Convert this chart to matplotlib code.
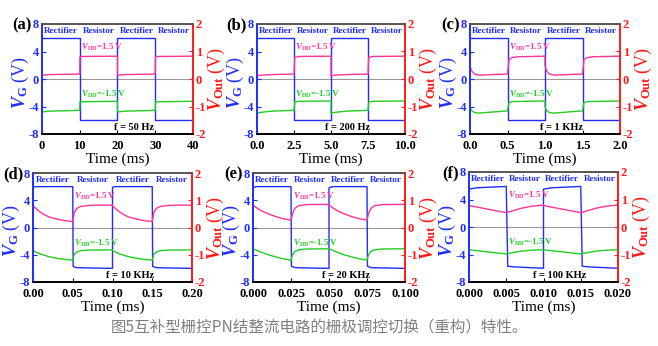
import numpy as np
import matplotlib.pyplot as plt

plt.rcParams['font.family'] = 'Liberation Serif'
plt.rcParams['font.weight'] = 'bold'
plt.rcParams['mathtext.fontset'] = 'custom'
plt.rcParams['mathtext.rm'] = 'Liberation Serif:bold'
plt.rcParams['mathtext.it'] = 'Liberation Serif:italic:bold'
plt.rcParams['mathtext.bf'] = 'Liberation Serif:bold'

BLUE = '#1f2dff'
RED = '#ff1a1a'
PINK = '#ff3399'
GREEN = '#22cc22'

panel_ids = ['(a)', '(b)', '(c)', '(d)', '(e)', '(f)']
freq_labels = ['f = 50 Hz', 'f = 200 Hz', 'f = 1 KHz', 'f = 10 KHz', 'f = 20 KHz', 'f = 100 KHz']
periods = [20, 5, 1, 0.1, 0.05, 0.01]
x_ticks = [
    [0, 10, 20, 30, 40],
    [0.0, 2.5, 5.0, 7.5, 10.0],
    [0.0, 0.5, 1.0, 1.5, 2.0],
    [0.00, 0.05, 0.10, 0.15, 0.20],
    [0.000, 0.025, 0.050, 0.075, 0.100],
    [0.000, 0.005, 0.010, 0.015, 0.020],
]
x_fmt = ['{:.0f}', '{:.1f}', '{:.1f}', '{:.2f}', '{:.3f}', '{:.3f}']

# one period of each trace: (time in ms, value); V_G in V on the left axis,
# V_Out in V on the right axis
vg_pts = [
    [(0, 6), (10, 6), (10, -6), (20, -6)],
    [(0, 6), (2.5, 6), (2.5, -6), (5, -6)],
    [(0, 6), (0.5, 6), (0.5, -6), (1, -6)],
    [(0, 5.9), (0.003, 6), (0.05, 6), (0.0505, -5.7), (0.055, -5.9), (0.1, -6)],
    [(0, 5.8), (0.002, 6), (0.025, 6), (0.0253, -5.7), (0.028, -5.9), (0.05, -6)],
    [(0, 5.5), (0.001, 5.7), (0.005, 5.9), (0.0052, -5.7), (0.006, -5.8), (0.01, -6)],
]
vdd_pos = [
    [(0, 0.15), (0.3, 0.14), (2, 0.16), (10, 0.18), (10.05, 0.8), (10.5, 0.82), (20, 0.83)],
    [(0, 0.12), (0.3, 0.14), (1, 0.16), (2.5, 0.18), (2.55, 0.78), (2.8, 0.82), (5, 0.83)],
    [(0, 0.48), (0.02, 0.3), (0.06, 0.18), (0.12, 0.14), (0.3, 0.16), (0.5, 0.18),
     (0.52, 0.7), (0.56, 0.78), (0.65, 0.81), (1.0, 0.83)],
    [(0, 0.8), (0.005, 0.66), (0.01, 0.55), (0.015, 0.46), (0.02, 0.39), (0.03, 0.31),
     (0.04, 0.25), (0.05, 0.22), (0.052, 0.55), (0.055, 0.7), (0.06, 0.77), (0.07, 0.81),
     (0.08, 0.82), (0.1, 0.82)],
    [(0, 0.82), (0.0025, 0.72), (0.005, 0.63), (0.01, 0.5), (0.015, 0.4), (0.02, 0.32),
     (0.025, 0.27), (0.026, 0.5), (0.0275, 0.7), (0.03, 0.8), (0.035, 0.84), (0.05, 0.85)],
    [(0, 0.78), (0.005, 0.52), (0.0055, 0.56), (0.007, 0.68), (0.0085, 0.76), (0.01, 0.8)],
]
vdd_neg = [
    [(0, -1.2), (0.5, -1.19), (2, -1.17), (10, -1.14), (10.05, -0.83), (20, -0.81)],
    [(0, -1.25), (0.3, -1.21), (1, -1.17), (2.5, -1.14), (2.55, -0.84), (2.8, -0.81), (5, -0.8)],
    [(0, -1.0), (0.02, -1.15), (0.06, -1.22), (0.12, -1.24), (0.3, -1.2), (0.5, -1.16),
     (0.52, -0.86), (0.56, -0.82), (1.0, -0.8)],
    [(0, -0.85), (0.005, -0.92), (0.01, -0.98), (0.02, -1.07), (0.03, -1.13), (0.04, -1.17),
     (0.05, -1.2), (0.052, -0.98), (0.055, -0.9), (0.06, -0.85), (0.07, -0.83), (0.1, -0.82)],
    [(0, -0.78), (0.005, -0.9), (0.01, -1.0), (0.015, -1.08), (0.02, -1.15), (0.025, -1.2),
     (0.026, -1.0), (0.0275, -0.88), (0.03, -0.82), (0.035, -0.79), (0.05, -0.78)],
    [(0, -0.83), (0.005, -0.98), (0.0055, -0.95), (0.007, -0.88), (0.0085, -0.84), (0.01, -0.83)],
]
caption = '图5互补型栅控PN结整流电路的栅极调控切换（重构）特性。'

# axes boxes in pixels: left, top, right, bottom
boxes = [
    (42, 24, 193, 134), (257, 24, 405, 134), (470, 24, 620, 134),
    (33, 173, 192, 282), (253, 173, 405, 282), (469, 172, 618, 282),
]

W, H = 658, 346
fig = plt.figure(figsize=(W / 100, H / 100), dpi=100)


def two_periods(pts, period):
    t = np.array([p[0] for p in pts])
    v = np.array([p[1] for p in pts])
    return np.concatenate([t, t + period]), np.concatenate([v, v])


for i in range(6):
    l, t, r, b = boxes[i]
    w = r - l
    ax = fig.add_axes([l / W, 1 - b / H, w / W, (b - t) / H])
    ax2 = ax.twinx()
    T = periods[i]

    ax.axhline(0, color='#999999', lw=0.8, zorder=0)
    tt, vv = two_periods(vg_pts[i], T)
    ax.plot(tt, vv, color=BLUE, lw=1.0)
    tt, vv = two_periods(vdd_pos[i], T)
    ax2.plot(tt, vv, color=PINK, lw=1.0)
    tt, vv = two_periods(vdd_neg[i], T)
    ax2.plot(tt, vv, color=GREEN, lw=1.0)

    ax.set_xlim(0, 2 * T)
    ax.set_ylim(-8, 8)
    ax2.set_ylim(-2, 2)
    ax.set_xticks(x_ticks[i])
    ax.set_xticklabels([x_fmt[i].format(v) for v in x_ticks[i]])
    ax.set_yticks([-8, -4, 0, 4, 8])
    ax.set_yticklabels(['-8', '-4', '0', '4', '8'])
    ax2.set_yticks([-2, -1, 0, 1, 2])
    ax2.set_yticklabels(['-2', '-1', '0', '1', '2'])

    ax.tick_params(axis='x', direction='in', length=3, labelsize=9, pad=4, colors='black')
    ax.tick_params(axis='y', direction='in', length=3, labelsize=9, pad=2,
                   colors=BLUE)
    ax2.tick_params(axis='y', direction='in', length=3, labelsize=9, pad=2,
                    colors=RED)
    for a in (ax, ax2):
        a.spines['left'].set_color(BLUE)
        a.spines['right'].set_color(RED)
        a.spines['top'].set_color('#555555')
        a.spines['bottom'].set_color('black')
        for s in a.spines.values():
            s.set_linewidth(1.2)

    ax.set_xlabel('Time (ms)', fontsize=11, labelpad=1)
    ax.set_ylabel(r'$V_\mathrm{G}$ (V)', color=BLUE, fontsize=13)
    ax.yaxis.set_label_coords(-11 / w, 0.47)
    ax2.set_ylabel(r'$V_\mathrm{Out}$ (V)', color=RED, fontsize=13, rotation=90)
    ax2.yaxis.set_label_coords(1 + 13 / w, 0.5)

    # mode labels over each half period
    for k, mode in enumerate(['Rectifier', 'Resistor', 'Rectifier', 'Resistor']):
        ax.text((k + 0.5) * T / 2, 7.0, mode, color=BLUE, fontsize=6.6,
                ha='center', va='center')
    ax.text(T / 2 + 0.02 * T, 4.6, r'$V_\mathrm{DD}$=1.5 V', color=PINK, fontsize=6.5,
            ha='left', va='center')
    ax.text(T / 2 + 0.02 * T, -2.3, r'$V_\mathrm{DD}$=-1.5 V', color=GREEN, fontsize=6.5,
            ha='left', va='center')
    ax.text(0.61, 0.06, freq_labels[i], transform=ax.transAxes, fontsize=7.5,
            ha='center', va='center')

    fig.text((l - 10) / W, 1 - (t + 1) / H, panel_ids[i], fontsize=12,
             ha='right', va='center')

fig.text(0.485, 1 - 328 / H, caption, family=['Noto Sans CJK SC', 'DejaVu Sans'],
         fontweight='normal', fontsize=11.2, color='#808080', ha='center', va='center')

fig.savefig('out.png', dpi=100)
